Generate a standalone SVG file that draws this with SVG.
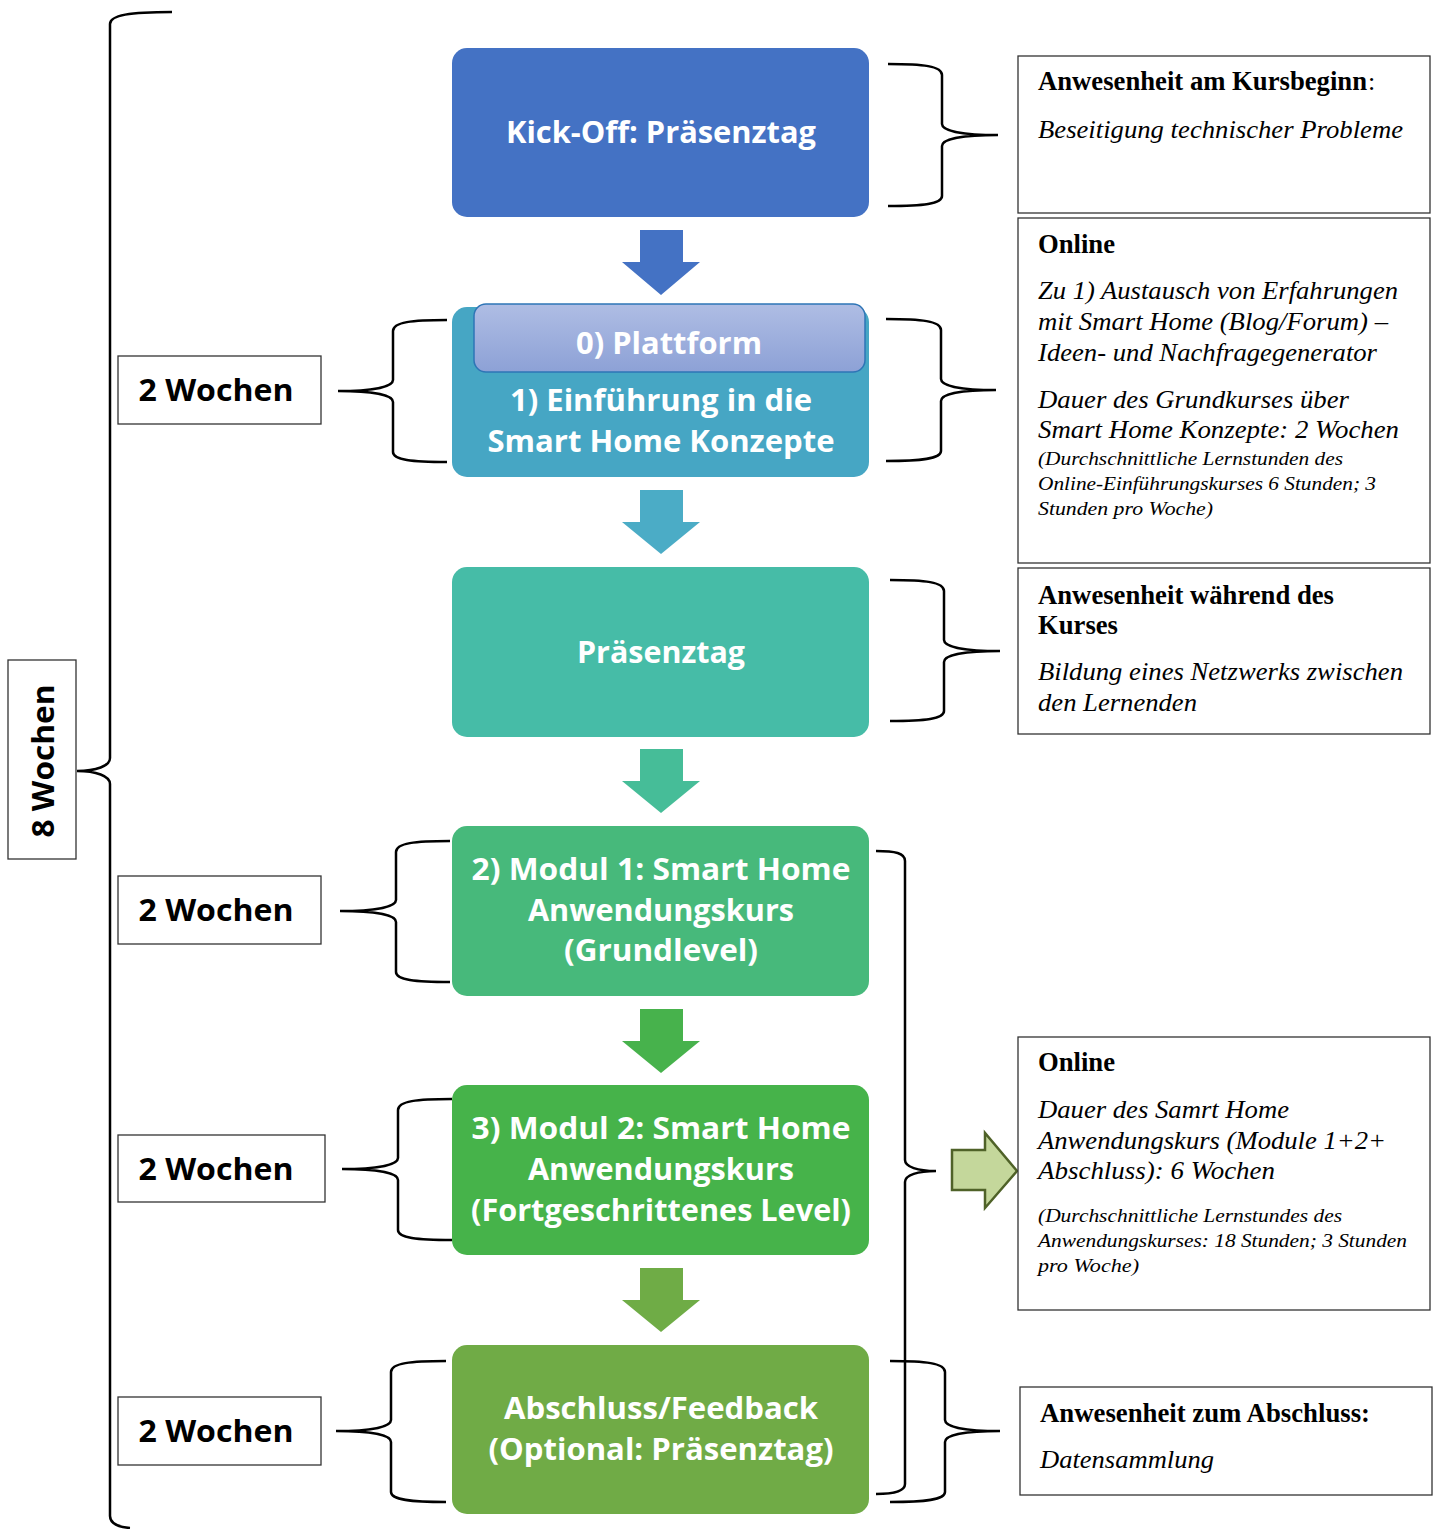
<svg xmlns="http://www.w3.org/2000/svg" width="1438" height="1529" viewBox="0 0 1438 1529">
<defs>
<style>
.nt{font-family:"Open Sans","Liberation Sans",sans-serif;font-weight:bold;font-size:30px;fill:#fff;text-anchor:middle}
.wt{font-family:"Open Sans","Liberation Sans",sans-serif;font-weight:bold;font-size:31px;fill:#000;text-anchor:middle}
.br{fill:none;stroke:#000;stroke-width:2.5}
.bx{fill:#fff;stroke:#333;stroke-width:1.3}
.tb{font-family:"Liberation Serif",serif;font-weight:bold;font-size:26.5px;fill:#000}
.ti{font-family:"Liberation Serif",serif;font-style:italic;font-size:26px;fill:#000}
.ts{font-family:"Liberation Serif",serif;font-style:italic;font-size:19.5px;fill:#000}
</style>
<linearGradient id="gp" x1="0" y1="0" x2="0" y2="1">
<stop offset="0" stop-color="#AFBDE4"/>
<stop offset="1" stop-color="#8DA1D6"/>
</linearGradient>
</defs>

<g id="connectors">
<path d="M640,230 H683 V262 H700 L661,295 L622,262 H640 Z" fill="#4472C4"/>
<path d="M640,490 H683 V522 H700 L661,554 L622,522 H640 Z" fill="#4BACC6"/>
<path d="M640,749 H683 V781 H700 L661,813 L622,781 H640 Z" fill="#46BD98"/>
<path d="M640,1009 H683 V1041 H700 L661,1073 L622,1041 H640 Z" fill="#47B24C"/>
<path d="M640,1268 H683 V1300 H700 L661,1332 L622,1300 H640 Z" fill="#6FAC46"/>
<path d="M952,1150 H985 V1133 L1017,1171 L985,1208 V1190 H952 Z" fill="#C4D79B" stroke="#4F6228" stroke-width="2.5"/>
</g>

<g id="braces">
<path class="br" d="M172,12 C130,12 110,15 110,24 L110,758 C110,766 96,771 77,771 C96,771 110,776 110,784 L110,1516 C110,1523 118,1527 130,1528"/>
<path class="br" d="M447,320 C412,320 393,322 393,331 L393,380 C393,387 372,391 338,391 C372,391 393,395 393,402 L393,452 C393,460 412,462 447,462"/>
<path class="br" d="M450,841 C415,841 396,843 396,852 L396,900 C396,907 375,911 340,911 C375,911 396,915 396,922 L396,972 C396,980 415,982 450,982"/>
<path class="br" d="M452,1099 C417,1099 398,1101 398,1110 L398,1158 C398,1165 377,1169 342,1169 C377,1169 398,1173 398,1180 L398,1230 C398,1238 417,1240 452,1240"/>
<path class="br" d="M446,1361 C411,1361 391,1363 391,1372 L391,1420 C391,1427 371,1431 336,1431 C371,1431 391,1435 391,1442 L391,1492 C391,1500 411,1502 446,1502"/>
<path class="br" d="M888,64 C923,64 942,66 942,75 L942,124 C942,131 963,135 998,135 C963,135 942,139 942,146 L942,196 C942,204 923,206 888,206"/>
<path class="br" d="M886,319 C921,319 941,321 941,330 L941,379 C941,386 961,390 996,390 C961,390 941,394 941,401 L941,451 C941,459 921,461 886,461"/>
<path class="br" d="M890,580 C925,580 944,582 944,591 L944,640 C944,647 965,651 1000,651 C965,651 944,655 944,662 L944,711 C944,719 925,721 890,721"/>
<path class="br" d="M876,851 C895,851 905,853 905,861 L905,1160 C905,1167 918,1171 936,1171 C918,1171 905,1175 905,1182 L905,1484 C905,1491 895,1494 876,1494"/>
<path class="br" d="M890,1361 C925,1361 945,1363 945,1372 L945,1420 C945,1427 965,1431 1000,1431 C965,1431 945,1435 945,1442 L945,1492 C945,1500 925,1502 890,1502"/>
</g>

<g id="node-kickoff">
<rect x="452" y="48" width="417" height="169" rx="15" fill="#4472C4"/>
<text class="nt" x="661" y="143" textLength="310" lengthAdjust="spacingAndGlyphs">Kick-Off: Präsenztag</text>
</g>

<g id="node-einfuehrung">
<rect x="452" y="307" width="417" height="170" rx="15" fill="#46A6C4"/>
<text class="nt" x="661" y="411" textLength="302" lengthAdjust="spacingAndGlyphs">1) Einführung in die</text>
<text class="nt" x="661" y="452" textLength="347" lengthAdjust="spacingAndGlyphs">Smart Home Konzepte</text>
</g>

<g id="node-plattform">
<rect x="474" y="304" width="391" height="68" rx="12" fill="url(#gp)" stroke="#2E75B6" stroke-width="1.5"/>
<text class="nt" x="669" y="354" textLength="186" lengthAdjust="spacingAndGlyphs">0) Plattform</text>
</g>

<g id="node-praesenztag">
<rect x="452" y="567" width="417" height="170" rx="15" fill="#46BCA7"/>
<text class="nt" x="661" y="663" textLength="168" lengthAdjust="spacingAndGlyphs">Präsenztag</text>
</g>

<g id="node-modul1">
<rect x="452" y="826" width="417" height="170" rx="15" fill="#47B97B"/>
<text class="nt" x="661" y="880" textLength="379" lengthAdjust="spacingAndGlyphs">2) Modul 1: Smart Home</text>
<text class="nt" x="661" y="921" textLength="266" lengthAdjust="spacingAndGlyphs">Anwendungskurs</text>
<text class="nt" x="661" y="961" textLength="194" lengthAdjust="spacingAndGlyphs">(Grundlevel)</text>
</g>

<g id="node-modul2">
<rect x="452" y="1085" width="417" height="170" rx="15" fill="#46B34A"/>
<text class="nt" x="661" y="1139" textLength="379" lengthAdjust="spacingAndGlyphs">3) Modul 2: Smart Home</text>
<text class="nt" x="661" y="1180" textLength="266" lengthAdjust="spacingAndGlyphs">Anwendungskurs</text>
<text class="nt" x="661" y="1221" textLength="380" lengthAdjust="spacingAndGlyphs">(Fortgeschrittenes Level)</text>
</g>

<g id="node-abschluss">
<rect x="452" y="1345" width="417" height="169" rx="15" fill="#70AB46"/>
<text class="nt" x="661" y="1419" textLength="314" lengthAdjust="spacingAndGlyphs">Abschluss/Feedback</text>
<text class="nt" x="661" y="1460" textLength="345" lengthAdjust="spacingAndGlyphs">(Optional: Präsenztag)</text>
</g>

<g id="label-8wochen">
<rect class="bx" x="8" y="660" width="68" height="199"/>
<text class="wt" transform="translate(54,761) rotate(-90)" textLength="153" lengthAdjust="spacingAndGlyphs">8 Wochen</text>
</g>
<g id="label-2wochen-1">
<rect class="bx" x="118" y="356" width="203" height="68"/>
<text class="wt" x="216" y="401" textLength="155" lengthAdjust="spacingAndGlyphs">2 Wochen</text>
</g>
<g id="label-2wochen-2">
<rect class="bx" x="118" y="876" width="203" height="68"/>
<text class="wt" x="216" y="921" textLength="155" lengthAdjust="spacingAndGlyphs">2 Wochen</text>
</g>
<g id="label-2wochen-3">
<rect class="bx" x="118" y="1135" width="207" height="67"/>
<text class="wt" x="216" y="1180" textLength="155" lengthAdjust="spacingAndGlyphs">2 Wochen</text>
</g>
<g id="label-2wochen-4">
<rect class="bx" x="118" y="1397" width="203" height="68"/>
<text class="wt" x="216" y="1442" textLength="155" lengthAdjust="spacingAndGlyphs">2 Wochen</text>
</g>

<g id="note-kursbeginn">
<rect class="bx" x="1018" y="56" width="412" height="157"/>
<text class="tb" x="1038" y="90" textLength="329" lengthAdjust="spacingAndGlyphs">Anwesenheit am Kursbeginn</text>
<text class="ti" x="1368" y="90" style="font-style:normal">:</text>
<text class="ti" x="1038" y="138" textLength="365" lengthAdjust="spacingAndGlyphs">Beseitigung technischer Probleme</text>
</g>

<g id="note-online-1">
<rect class="bx" x="1018" y="218" width="412" height="345"/>
<text class="tb" x="1038" y="253" textLength="77" lengthAdjust="spacingAndGlyphs">Online</text>
<text class="ti" x="1038" y="299" textLength="360" lengthAdjust="spacingAndGlyphs">Zu 1) Austausch von Erfahrungen</text>
<text class="ti" x="1038" y="330" textLength="350" lengthAdjust="spacingAndGlyphs">mit Smart Home (Blog/Forum) –</text>
<text class="ti" x="1038" y="361" textLength="339" lengthAdjust="spacingAndGlyphs">Ideen- und Nachfragegenerator</text>
<text class="ti" x="1038" y="408" textLength="311" lengthAdjust="spacingAndGlyphs">Dauer des Grundkurses über</text>
<text class="ti" x="1038" y="438" textLength="361" lengthAdjust="spacingAndGlyphs">Smart Home Konzepte: 2 Wochen</text>
<text class="ts" x="1038" y="465" textLength="305" lengthAdjust="spacingAndGlyphs">(Durchschnittliche Lernstunden des</text>
<text class="ts" x="1038" y="490" textLength="338" lengthAdjust="spacingAndGlyphs">Online-Einführungskurses 6 Stunden; 3</text>
<text class="ts" x="1038" y="515" textLength="175" lengthAdjust="spacingAndGlyphs">Stunden pro Woche)</text>
</g>

<g id="note-kurs">
<rect class="bx" x="1018" y="568" width="412" height="166"/>
<text class="tb" x="1038" y="604" textLength="296" lengthAdjust="spacingAndGlyphs">Anwesenheit während des</text>
<text class="tb" x="1038" y="634" textLength="80" lengthAdjust="spacingAndGlyphs">Kurses</text>
<text class="ti" x="1038" y="680" textLength="365" lengthAdjust="spacingAndGlyphs">Bildung eines Netzwerks zwischen</text>
<text class="ti" x="1038" y="711" textLength="159" lengthAdjust="spacingAndGlyphs">den Lernenden</text>
</g>

<g id="note-online-2">
<rect class="bx" x="1018" y="1037" width="412" height="273"/>
<text class="tb" x="1038" y="1071" textLength="77" lengthAdjust="spacingAndGlyphs">Online</text>
<text class="ti" x="1038" y="1118" textLength="251" lengthAdjust="spacingAndGlyphs">Dauer des Samrt Home</text>
<text class="ti" x="1038" y="1149" textLength="348" lengthAdjust="spacingAndGlyphs">Anwendungskurs (Module 1+2+</text>
<text class="ti" x="1038" y="1179" textLength="237" lengthAdjust="spacingAndGlyphs">Abschluss): 6 Wochen</text>
<text class="ts" x="1038" y="1222" textLength="304" lengthAdjust="spacingAndGlyphs">(Durchschnittliche Lernstundes des</text>
<text class="ts" x="1038" y="1247" textLength="369" lengthAdjust="spacingAndGlyphs">Anwendungskurses: 18 Stunden; 3 Stunden</text>
<text class="ts" x="1038" y="1272" textLength="101" lengthAdjust="spacingAndGlyphs">pro Woche)</text>
</g>

<g id="note-abschluss">
<rect class="bx" x="1020" y="1387" width="412" height="108"/>
<text class="tb" x="1040" y="1422" textLength="330" lengthAdjust="spacingAndGlyphs">Anwesenheit zum Abschluss:</text>
<text class="ti" x="1040" y="1468" textLength="174" lengthAdjust="spacingAndGlyphs">Datensammlung</text>
</g>
</svg>
